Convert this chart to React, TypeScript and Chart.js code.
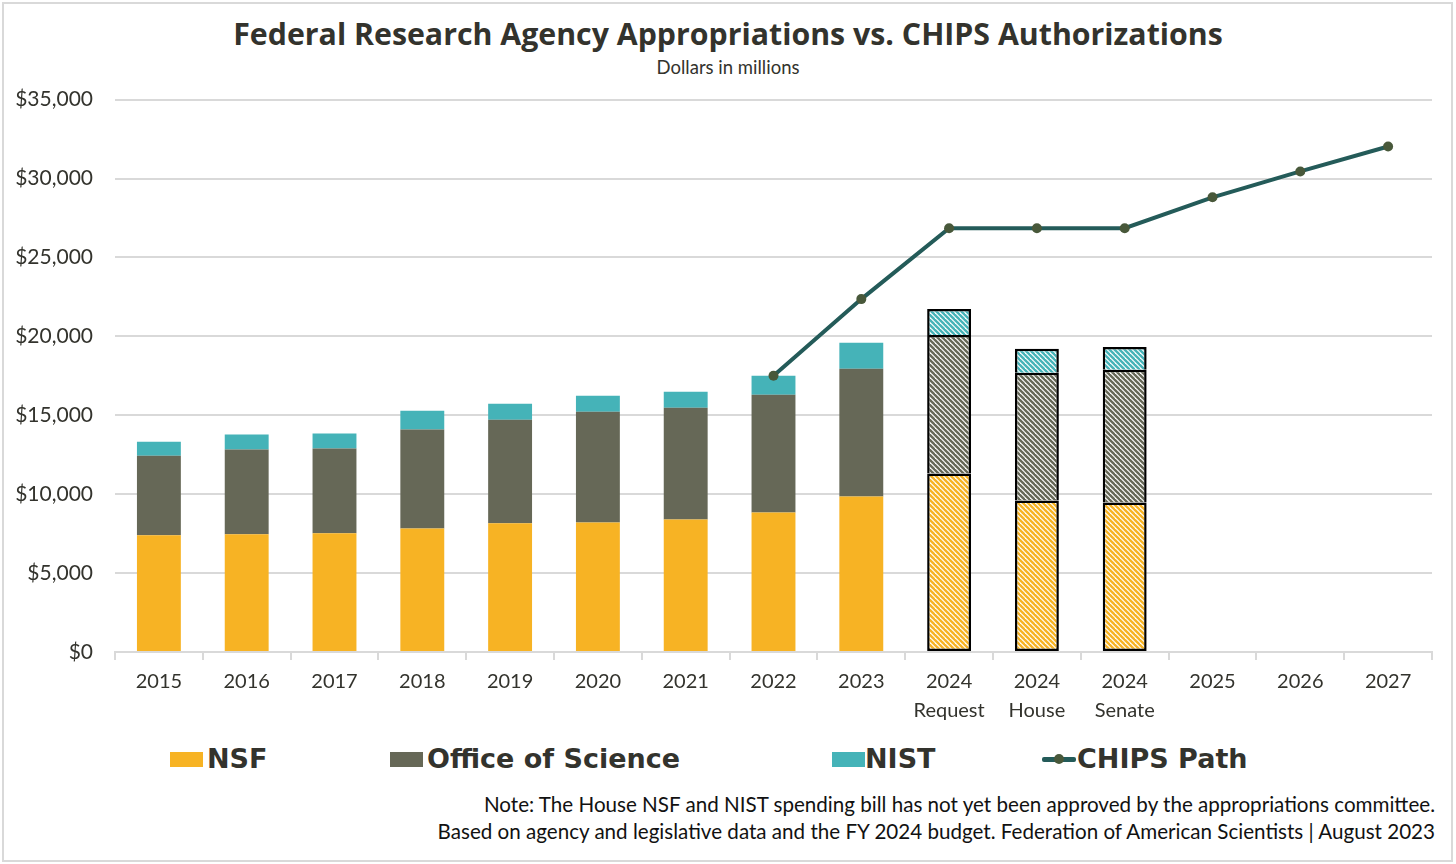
import React, { useEffect, useRef } from "react";
import { Chart, registerables } from "chart.js";

Chart.register(...registerables);

const categories: (string | string[])[] = [
  "2015", "2016", "2017", "2018", "2019", "2020", "2021", "2022", "2023",
  ["2024", "Request"], ["2024", "House"], ["2024", "Senate"],
  "2025", "2026", "2027",
];
const nsf = [7390, 7460, 7520, 7830, 8150, 8210, 8400, 8840, 9860, 11310, 9600, 9480, null, null, null];
const officeOfScience = [5050, 5370, 5370, 6260, 6570, 7010, 7080, 7460, 8090, 8780, 8090, 8400, null, null, null];
const nist = [880, 950, 950, 1200, 1010, 1010, 1010, 1200, 1640, 1640, 1520, 1450, null, null, null];
const chipsPath = [null, null, null, null, null, null, null, 17500, 22360, 26850, 26850, 26850, 28810, 30450, 32030];
const yTicks = [0, 5000, 10000, 15000, 20000, 25000, 30000, 35000];
const hatchedFrom = 9;

const NSF_COLOR = "#F7B324";
const OS_COLOR = "#666857";
const NIST_COLOR = "#45B3B8";
const LINE_COLOR = "#245B59";
const DOT_COLOR = "#48583A";
const TEXT = "#33332D";
const FONT = "Lato, 'Open Sans', sans-serif";
const TITLE_FONT = "'Open Sans', Lato, sans-serif";
const LEGEND_FONT = "'DejaVu Sans', 'Open Sans', sans-serif";

function makeHatch(color: string): CanvasPattern | string {
  const s = 5;
  const c = document.createElement("canvas");
  c.width = s;
  c.height = s;
  const g = c.getContext("2d");
  if (!g) return color;
  g.fillStyle = "#fff";
  g.fillRect(0, 0, s, s);
  g.strokeStyle = color;
  g.lineWidth = 2.4;
  for (const k of [-s, 0, s]) {
    g.beginPath();
    g.moveTo(k - 1, -1);
    g.lineTo(k + s + 1, s + 1);
    g.stroke();
  }
  return g.createPattern(c, "repeat") || color;
}

const App: React.FC = () => {
  const chartRef = useRef<HTMLCanvasElement>(null);
  const chartInstance = useRef<Chart | null>(null);

  useEffect(() => {
    document.body.style.margin = "0";
    if (!chartRef.current) return;
    const ctx = chartRef.current.getContext("2d");
    if (!ctx) return;
    if (chartInstance.current) chartInstance.current.destroy();

    // bottom segment gets a full outline, the ones above skip their base so dividers stay single
    const barSet = (label: string, data: (number | null)[], color: string, bottom: boolean) => {
      const hatch = makeHatch(color);
      return {
        type: "bar" as const,
        label,
        data,
        order: 1,
        backgroundColor: (c: any) => (c.dataIndex >= hatchedFrom ? hatch : color),
        borderColor: "#000",
        borderWidth: (c: any) => (c.dataIndex >= hatchedFrom ? 2.5 : 0),
        borderSkipped: bottom ? (false as const) : ("start" as const),
        barPercentage: 0.5,
        categoryPercentage: 1,
      };
    };

    chartInstance.current = new Chart(ctx, {
      type: "bar",
      data: {
        labels: categories,
        datasets: [
          barSet("NSF", nsf, NSF_COLOR, true),
          barSet("Office of Science", officeOfScience, OS_COLOR, false),
          barSet("NIST", nist, NIST_COLOR, false),
          {
            type: "line" as const,
            label: "CHIPS Path",
            data: chipsPath,
            order: 0,
            stack: "chips",
            borderColor: LINE_COLOR,
            borderWidth: 4,
            pointRadius: 5,
            pointBackgroundColor: DOT_COLOR,
            pointBorderColor: DOT_COLOR,
            pointBorderWidth: 0,
            tension: 0,
          } as any,
        ],
      },
      options: {
        animation: false,
        responsive: true,
        maintainAspectRatio: false,
        layout: { padding: { top: 3, right: 24, left: 0, bottom: 0 } },
        plugins: {
          legend: { display: false },
          tooltip: { enabled: false },
        },
        scales: {
          x: {
            stacked: true,
            grid: {
              display: true,
              drawOnChartArea: false,
              drawTicks: true,
              tickLength: 8,
              color: "#D9D9D9",
              lineWidth: 2,
            },
            border: { display: true, color: "#D9D9D9", width: 2 },
            ticks: {
              color: TEXT,
              font: { family: FONT, size: 20, lineHeight: 1.45 },
              padding: 7,
              maxRotation: 0,
              autoSkip: false,
            },
            afterFit: (scale: any) => {
              scale.height = 70;
            },
          },
          y: {
            stacked: true,
            min: 0,
            max: 35000,
            afterBuildTicks: (scale: any) => {
              scale.ticks = yTicks.map((v) => ({ value: v }));
            },
            grid: { color: "#D9D9D9", lineWidth: 2, drawTicks: false },
            border: { display: false },
            ticks: {
              color: TEXT,
              font: { family: FONT, size: 21 },
              padding: 22,
              callback: (v: any) => "$" + Number(v).toLocaleString("en-US"),
            },
            afterFit: (scale: any) => {
              scale.width = 115;
            },
          },
        },
      },
    });

    return () => {
      if (chartInstance.current) {
        chartInstance.current.destroy();
        chartInstance.current = null;
      }
    };
  }, []);

  const legendText: React.CSSProperties = {
    position: "absolute",
    top: 741,
    fontFamily: LEGEND_FONT,
    fontSize: 27,
    fontWeight: 700,
    color: TEXT,
    lineHeight: "36px",
  };
  const swatch = (left: number, color: string): React.CSSProperties => ({
    position: "absolute",
    left,
    top: 752,
    width: 33,
    height: 15,
    background: color,
  });

  return (
    <div
      style={{
        position: "relative",
        width: 1456,
        height: 864,
        background: "#fff",
        fontFamily: FONT,
        overflow: "hidden",
      }}
    >
      <div
        style={{
          position: "absolute",
          left: 2,
          top: 2,
          width: 1447,
          height: 856,
          border: "2px solid #D9D9D9",
        }}
      />
      <div
        style={{
          position: "absolute",
          top: 14,
          left: 0,
          width: 1456,
          textAlign: "center",
          fontFamily: TITLE_FONT,
          fontSize: 30.3,
          fontWeight: 700,
          color: TEXT,
          lineHeight: "40px",
        }}
      >
        Federal Research Agency Appropriations vs. CHIPS Authorizations
      </div>
      <div
        style={{
          position: "absolute",
          top: 55,
          left: 0,
          width: 1456,
          textAlign: "center",
          fontSize: 18.5,
          color: TEXT,
          lineHeight: "24px",
        }}
      >
        Dollars in millions
      </div>
      <div style={{ position: "absolute", left: 0, top: 65, width: 1456, height: 657 }}>
        <canvas ref={chartRef}></canvas>
      </div>
      <div style={swatch(170, NSF_COLOR)} />
      <div style={{ ...legendText, left: 207 }}>NSF</div>
      <div style={swatch(390, OS_COLOR)} />
      <div style={{ ...legendText, left: 427 }}>Office of Science</div>
      <div style={swatch(832, NIST_COLOR)} />
      <div style={{ ...legendText, left: 865 }}>NIST</div>
      <div
        style={{
          position: "absolute",
          left: 1042,
          top: 757,
          width: 34,
          height: 5,
          background: LINE_COLOR,
          borderRadius: 2,
        }}
      />
      <div
        style={{
          position: "absolute",
          left: 1054,
          top: 754,
          width: 10,
          height: 10,
          borderRadius: 5,
          background: DOT_COLOR,
        }}
      />
      <div style={{ ...legendText, left: 1077 }}>CHIPS Path</div>
      <div
        style={{
          position: "absolute",
          right: 21,
          top: 791,
          textAlign: "right",
          fontSize: 20.6,
          lineHeight: "27px",
          color: "#111",
        }}
      >
        Note: The House NSF and NIST spending bill has not yet been approved by the appropriations committee.
        <br />
        Based on agency and legislative data and the FY 2024 budget. Federation of American Scientists | August 2023
      </div>
    </div>
  );
};

export default App;
